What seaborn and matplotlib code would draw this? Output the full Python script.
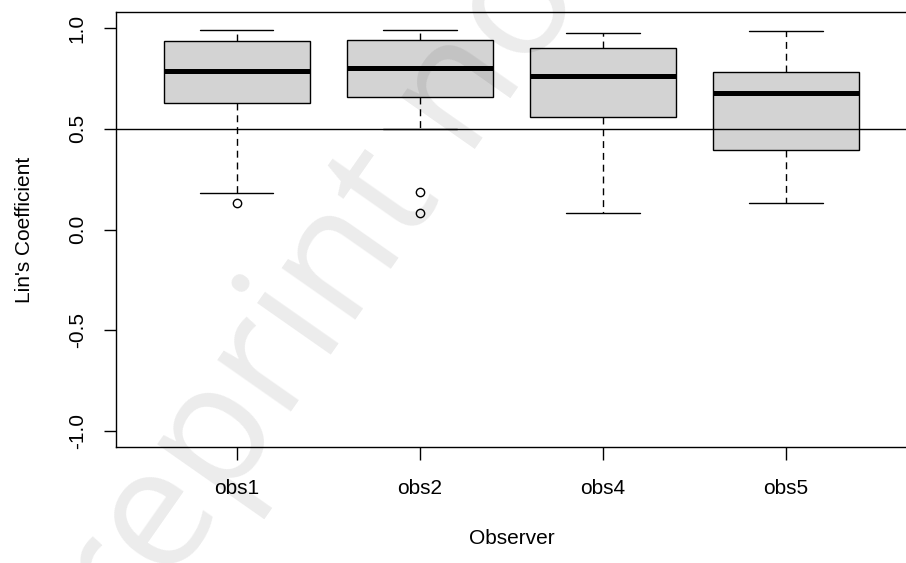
import numpy as np
import matplotlib
matplotlib.use("Agg")
import matplotlib.pyplot as plt
import pandas as pd
import seaborn as sns

sns.set_style("white")
plt.rcParams['font.family'] = ['Liberation Sans', 'DejaVu Sans']
plt.rcParams['text.color'] = 'black'
plt.rcParams['axes.labelcolor'] = 'black'
plt.rcParams['xtick.color'] = 'black'
plt.rcParams['ytick.color'] = 'black'

##########################################################################################
# Lin's concordance coefficient per observer
observers = ["obs1", "obs2", "obs4", "obs5"]
obs1 = [0.13, 0.18, 0.45, 0.627, 0.68, 0.74, 0.786, 0.83, 0.88, 0.935, 0.95, 0.97, 0.99]
obs2 = [0.08, 0.184, 0.497, 0.66, 0.72, 0.76, 0.80, 0.85, 0.90, 0.94, 0.96, 0.975, 0.99]
obs4 = [0.08, 0.35, 0.56, 0.68, 0.76, 0.84, 0.90, 0.95, 0.975]
obs5 = [0.13, 0.28, 0.393, 0.55, 0.677, 0.73, 0.78, 0.88, 0.985]
threshold = 0.5
yticks = [-1.0, -0.5, 0.0, 0.5, 1.0]

df = pd.DataFrame({
    "Observer": ["obs1"] * len(obs1) + ["obs2"] * len(obs2)
                + ["obs4"] * len(obs4) + ["obs5"] * len(obs5),
    "lin": obs1 + obs2 + obs4 + obs5,
})

#########################################################################################
fig = plt.figure(figsize=(9.06, 5.63), dpi=100)
ax = fig.add_axes([0.128, 0.206, 0.873, 0.7727])

sns.boxplot(data=df, x="Observer", y="lin", order=observers, ax=ax,
            color="#d3d3d3", saturation=1, linecolor="black", linewidth=1,
            width=0.8, whis=1.5,
            medianprops=dict(linewidth=3.6, color="black"),
            whiskerprops=dict(linestyle=(0, (5, 3.5)), color="black"),
            capprops=dict(color="black"),
            flierprops=dict(marker="o", markerfacecolor="none",
                            markeredgecolor="black", markersize=6,
                            markeredgewidth=1))

# reference line at 0.5
ax.axhline(threshold, color="black", linewidth=1, zorder=5)

ax.set_xlim(-0.66, 3.66)
ax.set_ylim(-1.08, 1.08)
ax.set_yticks(yticks)
ax.set_yticklabels([f"{v:.1f}" for v in yticks], rotation=90, va="center")
ax.tick_params(axis="both", direction="out", length=9, width=1,
               color="black", labelcolor="black", labelsize=15,
               left=True, bottom=True)
ax.tick_params(axis="y", pad=12)
ax.tick_params(axis="x", pad=14)
for s in ax.spines.values():
    s.set_visible(True)
    s.set_color("black")
    s.set_linewidth(1)

ax.set_xlabel("Observer", fontsize=15, labelpad=22, color="black")
ax.set_ylabel("Lin's Coefficient", fontsize=15, labelpad=24, color="black")

# faint diagonal watermark
fig.text(0.079, -0.289, "Preprint not peer reviewed", rotation=55,
         rotation_mode="anchor", ha="left", va="baseline", fontsize=122,
         family="Open Sans", color="black", alpha=0.08, zorder=10)

fig.savefig("out.png", dpi=100)
